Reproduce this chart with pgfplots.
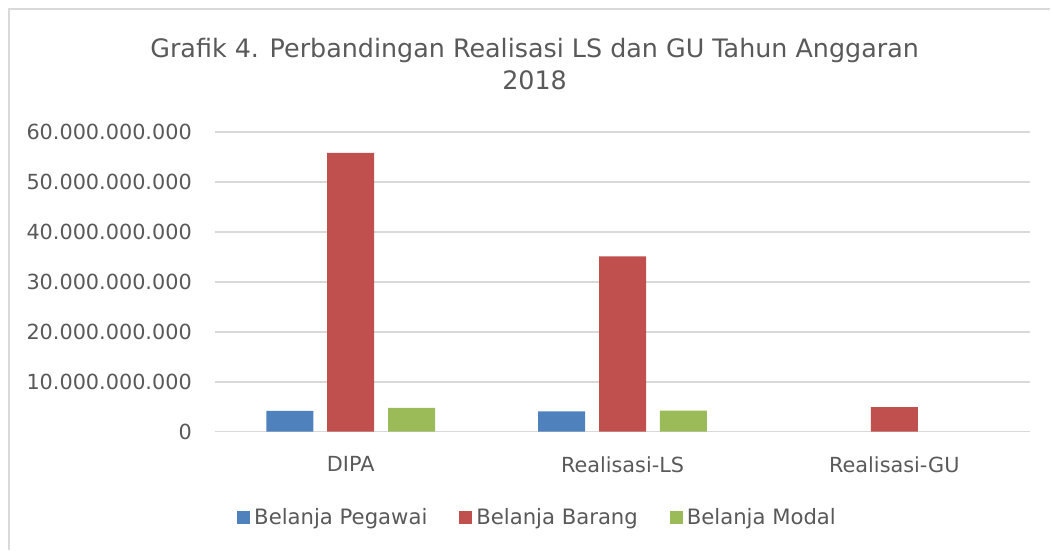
\documentclass[border=0pt]{standalone}
\usepackage{pgfplots}
\pgfplotsset{compat=1.18}
\usepackage{fontspec}
\setmainfont{DejaVu Sans}
\definecolor{cPeg}{HTML}{4F81BD}
\definecolor{cBar}{HTML}{C0504D}
\definecolor{cMod}{HTML}{9BBB59}
\definecolor{cGrid}{HTML}{D9D9D9}
\definecolor{cTxt}{HTML}{595959}
\begin{document}
\begin{tikzpicture}
\path (0pt,0pt) rectangle (525.5pt,275pt);
\draw[cGrid, line width=0.8pt] (4.4pt,0pt) -- (4.4pt,270.5pt) -- (525.5pt,270.5pt);
\node[text=cTxt, align=center, font=\fontsize{12.7}{16}\selectfont] at (267.5pt,243pt) {Grafik 4. Perbandingan Realisasi LS dan GU Tahun Anggaran\\2018};
\begin{axis}[
  at={(107.5pt,59pt)}, anchor=south west,
  scale only axis, width=408pt, height=150pt,
  xmin=-0.5, xmax=2.5, ymin=0, ymax=60e9,
  ybar=7pt, bar width=23.5pt,
  xtick={0,1,2}, xticklabels={DIPA,Realisasi-LS,Realisasi-GU},
  ytick={0,10e9,20e9,30e9,40e9,50e9,60e9},
  scaled y ticks=false,
  /pgf/number format/.cd, fixed, precision=0, 1000 sep={.}, assume math mode=true,
  /pgfplots/.cd,
  major tick length=0pt,
  axis line style={draw=none},
  ymajorgrids, grid style={cGrid, line width=0.8pt},
  tick label style={text=cTxt, font=\fontsize{10.4}{12}\selectfont},
  yticklabel style={xshift=-8pt},
  xticklabel style={yshift=-9pt},
  legend style={draw=none, at={(0.397,-0.287)}, anchor=center, legend columns=3,
    font=\fontsize{10.6}{12}\selectfont, text=cTxt,
    /tikz/every even column/.append style={column sep=14pt}},
  legend image code/.code={\fill[#1] (-1.5pt,-3.25pt) rectangle (5pt,3.25pt);},
]
\addplot[fill=cPeg, draw=none] coordinates {(0,4.14e9) (1,4.08e9)};
\addplot[fill=cBar, draw=none] coordinates {(0,55.8e9) (1,35.1e9) (2,4.9e9)};
\addplot[fill=cMod, draw=none] coordinates {(0,4.74e9) (1,4.2e9)};
\legend{Belanja Pegawai, Belanja Barang, Belanja Modal}
\end{axis}
\end{tikzpicture}
\end{document}
